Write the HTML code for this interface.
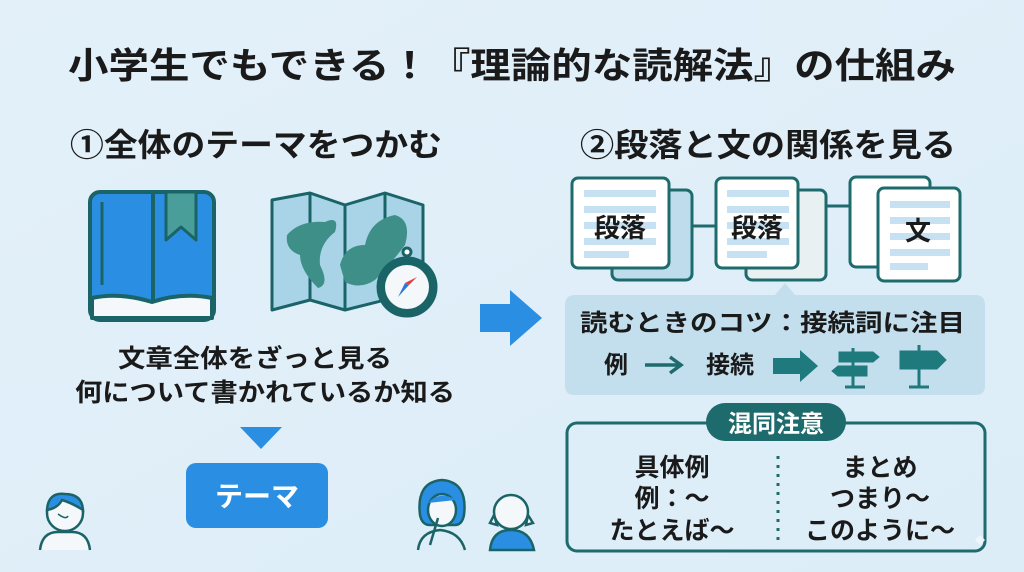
<!DOCTYPE html>
<html><head><meta charset="utf-8"><style>
html,body{margin:0;padding:0;background:#e0eff9;}
svg{display:block}
text{font-family:"Liberation Sans","Noto Sans CJK JP",sans-serif;font-weight:bold;fill:#1a1a1a}
</style></head><body>
<svg width="1024" height="572" viewBox="0 0 1024 572" xmlns="http://www.w3.org/2000/svg">
<defs><linearGradient id="bg" x1="0" y1="0" x2="1" y2="1"><stop offset="0" stop-color="#e3f0f9"/><stop offset="1" stop-color="#dcedf8"/></linearGradient></defs>
<rect width="1024" height="572" fill="url(#bg)"/>
<text x="68" y="78" font-size="36" textLength="888" lengthAdjust="spacingAndGlyphs">小学生でもできる！『理論的な読解法』の仕組み</text>
<text x="70" y="156" font-size="32" textLength="372" lengthAdjust="spacingAndGlyphs">①全体のテーマをつかむ</text>
<text x="580" y="156" font-size="32" textLength="376" lengthAdjust="spacingAndGlyphs">②段落と文の関係を見る</text>

<!-- book -->
<g stroke="#1a6468" stroke-width="4" stroke-linejoin="round">
<rect x="90" y="192" width="124" height="128" rx="10" fill="#2a8ee2"/>
<line x1="153" y1="192" x2="153" y2="300"/>
<line x1="102" y1="202" x2="102" y2="285" stroke-width="3"/>
<path d="M92 298 Q120 292 152 302 Q182 292 212 298 L212 318 L92 318 Z" fill="#f5f8fa"/>
<path d="M166 192 V240 L181 227 L196 240 V192 Z" fill="#4a9e9a" stroke-width="3"/>
</g>
<!-- map -->
<g stroke="#1a6468" stroke-width="3" stroke-linejoin="round">
<path d="M272 200 L310 193 L345 205 L385 193 L423 205 L423 310 L385 300 L345 310 L310 300 L272 310 Z" fill="#a9d4e8"/>
<line x1="310" y1="193" x2="310" y2="300"/><line x1="345" y1="205" x2="345" y2="310"/><line x1="385" y1="193" x2="385" y2="300"/>
<path d="M287 235 Q300 220 325 222 Q340 215 335 232 Q318 245 320 265 Q330 285 318 288 Q300 270 300 255 Q285 250 287 235Z" fill="#3d8f88" stroke="none"/>
<path d="M340 265 Q345 245 365 245 Q370 220 395 215 Q412 220 405 245 Q390 265 375 280 Q360 290 345 282Z" fill="#3d8f88" stroke="none"/>
<circle cx="407" cy="287" r="29" fill="#1a6468"/>
<circle cx="407" cy="287" r="22" fill="#f4f8fa" stroke="none"/>
<circle cx="407" cy="252" r="4" fill="#fff"/>
<path d="M398 297 L409 285 L405 283Z" fill="#2a78d8" stroke="none"/><path d="M417 277 L409 285 L405 283Z" fill="#e04040" stroke="none"/>
</g>
<text x="118" y="367" font-size="25" textLength="274" lengthAdjust="spacingAndGlyphs">文章全体をざっと見る</text>
<text x="75" y="401" font-size="25" textLength="380" lengthAdjust="spacingAndGlyphs">何について書かれているか知る</text>
<path d="M240 427 L282 427 L261 449Z" fill="#2a8ee2"/>
<rect x="186" y="463" width="142" height="65" rx="10" fill="#2a8ee2"/>
<text x="257" y="506" font-size="28" text-anchor="middle" style="fill:#fff">テーマ</text>

<!-- big arrow -->
<path d="M480 304 L510 304 L510 290 L542 318 L510 346 L510 332 L480 332Z" fill="#2a8ee2"/>

<!-- docs -->
<g stroke="#1e6b6e" stroke-width="3">
<line x1="668" y1="226" x2="716" y2="226"/><line x1="797" y1="206" x2="850" y2="206"/>
<rect x="612" y="190" width="80" height="90" rx="6" fill="#bfdcec"/>
<rect x="572" y="178" width="97" height="90" rx="6" fill="#fff"/>
<rect x="746" y="190" width="80" height="90" rx="6" fill="#e9f0f2"/>
<rect x="716" y="178" width="82" height="90" rx="6" fill="#fff"/>
<rect x="850" y="177" width="80" height="90" rx="6" fill="#fff"/>
<rect x="878" y="188" width="82" height="93" rx="6" fill="#fff"/>
</g>
<g fill="#c6e1f1">
<rect x="584" y="190" width="72" height="7"/><rect x="584" y="206" width="72" height="7"/><rect x="584" y="222" width="72" height="7"/><rect x="584" y="238" width="72" height="7"/><rect x="584" y="251" width="45" height="7"/>
<rect x="727" y="190" width="62" height="7"/><rect x="727" y="206" width="62" height="7"/><rect x="727" y="222" width="62" height="7"/><rect x="727" y="238" width="62" height="7"/><rect x="727" y="251" width="40" height="7"/>
<rect x="890" y="201" width="60" height="7"/><rect x="890" y="217" width="60" height="7"/><rect x="890" y="233" width="60" height="7"/><rect x="890" y="249" width="60" height="7"/><rect x="890" y="263" width="38" height="7"/>
</g>
<text x="620" y="237" font-size="26" text-anchor="middle">段落</text>
<text x="757" y="237" font-size="26" text-anchor="middle">段落</text>
<text x="918" y="240" font-size="26" text-anchor="middle">文</text>

<!-- tip box -->
<path d="M575 295 L775 295 L785 283 L795 295 L975 295 Q985 295 985 305 L985 386 Q985 395 975 395 L575 395 Q565 395 565 386 L565 305 Q565 295 575 295Z" fill="#c3dfee"/>
<text x="580" y="331" font-size="24" textLength="385" lengthAdjust="spacingAndGlyphs">読むときのコツ：接続詞に注目</text>
<text x="616" y="373" font-size="24" text-anchor="middle">例</text>
<path d="M645 365 L680 365 M670 357 L681 365 L670 373" stroke="#1e6b6e" stroke-width="3.5" fill="none"/>
<text x="730" y="373" font-size="24" text-anchor="middle">接続</text>
<path d="M773 358 L800 358 L800 350 L818 366 L800 382 L800 374 L773 374Z" fill="#1e7a7c"/>
<g fill="#1e7a7c" stroke="#1e7a7c">
<line x1="853" y1="348" x2="853" y2="387" stroke-width="3"/><line x1="845" y1="387" x2="865" y2="387" stroke-width="3"/>
<path d="M839 352 L873 352 L879 357 L873 362 L839 362Z"/><path d="M867 366 L838 366 L832 371 L838 376 L867 376Z"/>
<line x1="919" y1="345" x2="919" y2="387" stroke-width="3"/><line x1="909" y1="387" x2="929" y2="387" stroke-width="3"/>
<path d="M900 351 L937 351 L946 360 L937 369 L900 369Z"/>
</g>

<!-- 混同注意 -->
<rect x="567" y="423" width="418" height="128" rx="10" fill="none" stroke="#1e6b6e" stroke-width="3"/>
<rect x="706" y="403" width="140" height="38" rx="19" fill="#1e6b6e"/>
<text x="776" y="432" font-size="24" text-anchor="middle" style="fill:#fff">混同注意</text>
<line x1="778" y1="456" x2="778" y2="540" stroke="#1e6b6e" stroke-width="3" stroke-dasharray="3 6"/>
<g font-size="25" text-anchor="middle">
<text x="672" y="476">具体例</text><text x="672" y="507">例：～</text><text x="672" y="539">たとえば～</text>
<text x="880" y="476">まとめ</text><text x="880" y="507">つまり～</text><text x="880" y="539">このように～</text>
</g>

<!-- people -->
<g stroke="#1a6468" stroke-width="2.5" fill="none">
<circle cx="65" cy="513" r="18" fill="#f4f8fa"/>
<path d="M47 510 Q48 492 65 494 Q82 494 83 510 Q72 503 62 500 Q58 508 47 510Z" fill="#2a8ee2"/>
<path d="M40 550 Q42 532 58 532 L72 532 Q88 532 90 550" fill="#f4f8fa"/>
<path d="M58 514 Q66 520 68 516" stroke-width="1.5"/>
<path d="M420 515 Q416 482 442 480 Q468 482 464 515 Q462 525 455 525 L430 525 Q422 525 420 515Z" fill="#2a8ee2"/>
<ellipse cx="442" cy="510" rx="14" ry="16" fill="#f4f8fa"/>
<path d="M428 503 Q440 490 456 500" fill="#2a8ee2" stroke="none"/>
<path d="M418 550 Q420 532 440 530 Q460 532 465 550"/>
<path d="M438 518 L430 545" />
<circle cx="511" cy="512" r="17" fill="#f4f8fa"/>
<path d="M490 550 Q492 530 511 530 Q530 530 534 550Z" fill="#2a8ee2"/>
<path d="M494 515 L490 523 L497 525Z M528 515 L533 523 L526 525Z" fill="#f4f8fa"/>
</g>
<path d="M975 540 L980 535 L985 540 L980 545Z" fill="#eef6fb"/>
</svg>
</body></html>
